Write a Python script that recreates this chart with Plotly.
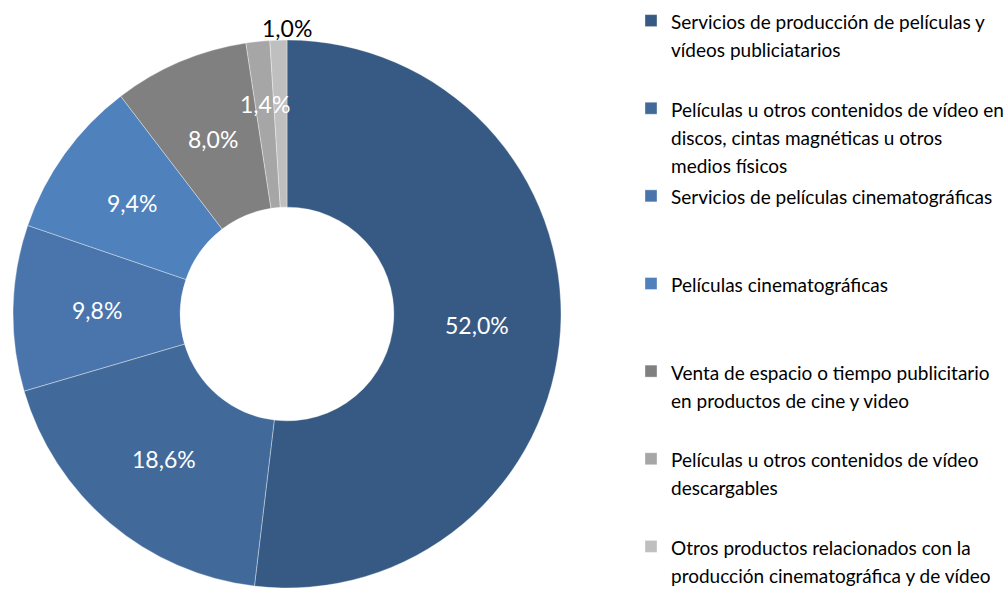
import math
import plotly.graph_objects as go

labels = [
    "Servicios de producción de películas y<br>vídeos publiciatarios",
    "Películas u otros contenidos de vídeo en<br>discos, cintas magnéticas u otros<br>medios físicos",
    "Servicios de películas cinematográficas",
    "Películas cinematográficas",
    "Venta de espacio o tiempo publicitario<br>en productos de cine y video",
    "Películas u otros contenidos de vídeo<br>descargables",
    "Otros productos relacionados con la<br>producción cinematográfica y de vídeo",
]
values = [52.0, 18.6, 9.8, 9.4, 8.0, 1.4, 1.0]
colors = ["#375A85", "#416A9B", "#4A75AC", "#4F81BD", "#808080", "#A6A6A6", "#BFBFBF"]

# label placement style (fraction of outer radius, position along slice, colour)
label_radius = [0.695, 0.695, 0.695, 0.695, 0.695, 0.77, 1.045]
label_along = [0.5, 0.5, 0.5, 0.5, 0.5, 0.5, 1.0]
label_color = ["white"] * 6 + ["black"]

W, H = 1008, 593
HOLE = 0.39
dom_x = [13 / W, 561 / W]
dom_y = [1 - 588 / H, 1 - 40 / H]

# legend entries: equal line count so the spacing is even
legend_lines = 3
legend_labels = []
for i, lab in enumerate(labels):
    n = lab.count("<br>") + 1
    if i < len(labels) - 1:
        lab = lab + "<br> " * (legend_lines - n)
    legend_labels.append(f"<span style='font-size:19px'>{lab}</span>")

texts = [f"{v:.1f}%".replace(".", ",") for v in values]

fig = go.Figure(go.Pie(
    labels=legend_labels,
    values=values,
    textinfo="none",
    hole=HOLE,
    sort=False,
    direction="clockwise",
    rotation=0,
    marker=dict(colors=colors, line=dict(color="rgba(255,255,255,0.6)", width=0.6)),
    domain=dict(x=dom_x, y=dom_y),
    automargin=False,
))

# data labels positioned from the slice angles
cx = (dom_x[0] + dom_x[1]) / 2 * W
cy = (1 - (dom_y[0] + dom_y[1]) / 2) * H
R = min((dom_x[1] - dom_x[0]) * W, (dom_y[1] - dom_y[0]) * H) / 2
total = sum(values)
cum = 0.0
for v, t, rf, al, col in zip(values, texts, label_radius, label_along, label_color):
    frac = (cum + v * al) / total
    cum += v
    ang = 2 * math.pi * frac
    xp = cx + rf * R * math.sin(ang)
    yp = cy - rf * R * math.cos(ang)
    fig.add_annotation(
        x=xp / W, y=1 - yp / H, xref="paper", yref="paper",
        text=t, showarrow=False, xanchor="center", yanchor="middle",
        font=dict(color=col, size=23, family="Lato"),
    )

fig.update_layout(
    width=W, height=H,
    margin=dict(l=0, r=0, t=0, b=0, autoexpand=False),
    paper_bgcolor="white",
    plot_bgcolor="white",
    font=dict(family="Lato", color="black"),
    legend=dict(
        x=0.626, y=1.0, xanchor="left", yanchor="top",
        font=dict(size=21.7, family="Lato", color="black"),
        valign="top",
        traceorder="normal",
        bgcolor="rgba(0,0,0,0)",
    ),
    showlegend=True,
)

fig.write_html("out.html", config={"displayModeBar": False},
               post_script="document.body.style.margin='0';")
